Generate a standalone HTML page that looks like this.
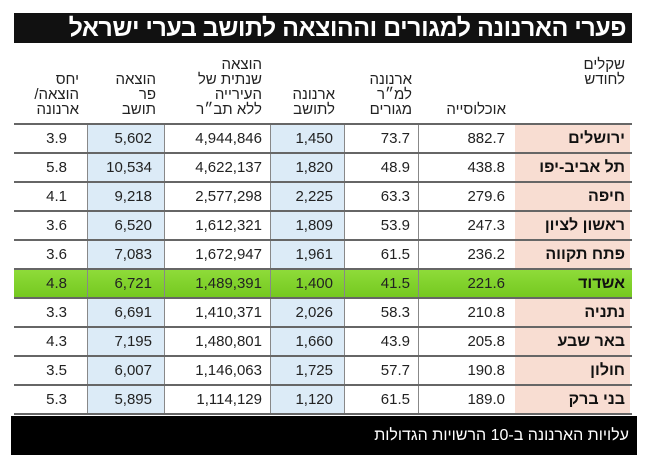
<!DOCTYPE html>
<html><head><meta charset="utf-8"><style>
body{margin:0;width:650px;height:466px;background:#fff;position:relative;overflow:hidden;font-family:"Liberation Sans","Noto Sans CJK SC",sans-serif;}
.a{position:absolute}
.title{left:14px;top:13px;width:618px;height:30px;background:#111;color:#fff;font-weight:bold;font-size:25px;line-height:30px;text-align:right;direction:rtl;box-sizing:border-box;letter-spacing:-0.5px}
.h{position:absolute;direction:rtl;text-align:right;font-size:15px;line-height:15px;color:#222;}
.cell{position:absolute;height:29px;line-height:29px;font-size:15px;color:#222;text-align:right}
.name{font-weight:bold;font-size:16px;direction:rtl;color:#111}
.hl{position:absolute;left:14px;width:618px;height:2px;background:#666}
.vl{position:absolute;width:1px;background:#888;top:124px;height:290px}
</style></head><body>
<div class="a title"><span style="padding-right:6px">פערי הארנונה למגורים וההוצאה לתושב בערי ישראל</span></div>
<div class="h" style="right:25px;top:57px">שקלים<br>לחודש</div>
<div class="h" style="right:144px;top:102px">אוכלוסייה</div>
<div class="h" style="right:238px;top:72px">ארנונה<br>למ״ר<br>מגורים</div>
<div class="h" style="right:315px;top:87px">ארנונה<br>לתושב</div>
<div class="h" style="right:388px;top:57px">הוצאה<br>שנתית של<br>העירייה<br>ללא תב״ר</div>
<div class="h" style="right:494px;top:72px">הוצאה<br>פר<br>תושב</div>
<div class="h" style="right:571px;top:72px">יחס<br>הוצאה/<br>ארנונה</div>
<div class="a" style="left:87px;top:124px;width:77px;height:290px;background:#dcebf7"></div>
<div class="a" style="left:270px;top:124px;width:74px;height:290px;background:#dcebf7"></div>
<div class="a" style="left:515px;top:124px;width:115px;height:290px;background:#f8ddd2"></div>
<div class="a" style="left:14px;top:269px;width:618px;height:29px;background:linear-gradient(#8fdc3a,#74c81f)"></div>
<div class="vl" style="left:87px"></div><div class="vl" style="left:164px"></div><div class="vl" style="left:270px"></div><div class="vl" style="left:344px"></div><div class="vl" style="left:418px"></div>
<div id="rows"></div>
<div class="a" style="left:11px;top:416px;width:626px;height:39px;background:#000;color:#fff;font-size:16px;line-height:39px;direction:rtl;text-align:right"><span style="padding-right:8px">עלויות הארנונה ב-10 הרשויות הגדולות</span></div>
<script>
var d=[["ירושלים","882.7","73.7","1,450","4,944,846","5,602","3.9"],
["תל אביב-יפו","438.8","48.9","1,820","4,622,137","10,534","5.8"],
["חיפה","279.6","63.3","2,225","2,577,298","9,218","4.1"],
["ראשון לציון","247.3","53.9","1,809","1,612,321","6,520","3.6"],
["פתח תקווה","236.2","61.5","1,961","1,672,947","7,083","3.6"],
["אשדוד","221.6","41.5","1,400","1,489,391","6,721","4.8"],
["נתניה","210.8","58.3","2,026","1,410,371","6,691","3.3"],
["באר שבע","205.8","43.9","1,660","1,480,801","7,195","4.3"],
["חולון","190.8","57.7","1,725","1,146,063","6,007","3.5"],
["בני ברק","189.0","61.5","1,120","1,114,129","5,895","5.3"]];
var rights=[625,505,410,333,262,152,67],h="";
h+='<div class="hl" style="top:123px"></div>';
for(var i=0;i<10;i++){var t=124+i*29;
for(var j=0;j<7;j++){h+='<div class="cell'+(j==0?' name':'')+'" style="top:'+t+'px;right:'+(650-rights[j])+'px">'+d[i][j]+'</div>';}
h+='<div class="hl" style="top:'+(t+28)+'px"></div>';}
document.getElementById("rows").innerHTML=h;
</script>
</body></html>
